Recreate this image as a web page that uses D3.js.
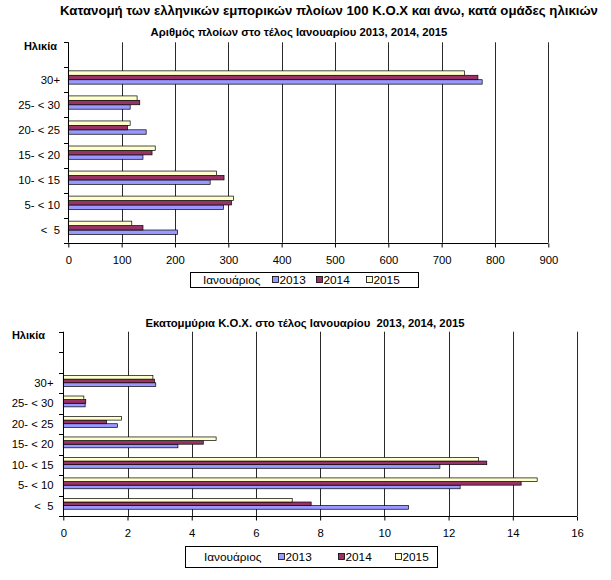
<!DOCTYPE html>
<html lang="el">
<head>
<meta charset="UTF-8" />
<title>Κατανομή εμπορικών πλοίων</title>
<script src="https://d3js.org/d3.v7.min.js"></script>
<style>
  body { margin: 0; background: #fff; }
  svg { display: block; font-family: "Liberation Sans", Arial, sans-serif; }
  text { fill: #000; white-space: pre; }
</style>
</head>
<body>
<svg id="chart" width="611" height="580"></svg>
<script>
// == DATA ==
const ageGroups = ["30+", "25- < 30", "20- < 25", "15- < 20", "10- < 15", "5- < 10", "<  5"];
const years = ["2013", "2014", "2015"];
const yearColors = ["#9999ff", "#993366", "#ffffcc"];

// number of ships, end of January
const ships2013 = [776, 116, 146, 140, 266, 291, 205];
const ships2014 = [768, 134, 111, 157, 292, 306, 140];
const ships2015 = [743, 129, 116, 163, 278, 310, 119];
const shipTicks = [0, 100, 200, 300, 400, 500, 600, 700, 800, 900];

// million GT, end of January
const gt2013 = [2.88, 0.68, 1.69, 3.57, 11.73, 12.36, 10.75];
const gt2014 = [2.84, 0.70, 1.35, 4.36, 13.19, 14.26, 7.72];
const gt2015 = [2.79, 0.64, 1.81, 4.76, 12.93, 14.76, 7.13];
const gtTicks = [0, 2, 4, 6, 8, 10, 12, 14, 16];

const svg = d3.select("#chart");

svg.append("text")
  .attr("x", 329).attr("y", 10)
  .attr("text-anchor", "middle").attr("dominant-baseline", "central")
  .attr("font-weight", "bold").attr("font-size", 13.2)
  .text("Κατανομή των ελληνικών εμπορικών πλοίων 100 Κ.Ο.Χ και άνω, κατά ομάδες ηλικιών");

function drawChart(cfg) {
  const g = svg.append("g");
  const x = d3.scaleLinear().domain(cfg.domain).range([cfg.left, cfg.right]);
  // leading empty bands, as in the spreadsheet chart
  const cats = cfg.blanks.concat(ageGroups);
  const y = d3.scaleBand().domain(cats).range([cfg.top, cfg.bottom]);
  const bw = y.bandwidth();
  const inner = d3.scaleBand().domain(["2015", "2014", "2013"]).range([0, bw * 0.53]);
  const off = bw * 0.14;

  g.append("text")
    .attr("x", cfg.titleX).attr("y", cfg.titleY)
    .attr("text-anchor", "middle").attr("dominant-baseline", "central")
    .attr("font-weight", "bold").attr("font-size", 11.3)
    .text(cfg.title);

  g.append("text")
    .attr("x", cfg.ageX).attr("y", cfg.top + 3.5)
    .attr("text-anchor", "end").attr("dominant-baseline", "central")
    .attr("font-weight", "bold").attr("font-size", 11)
    .text("Ηλικία");

  // vertical gridlines
  g.selectAll(".grid").data(cfg.ticks.slice(1)).join("line")
    .attr("x1", d => Math.round(x(d)) + 0.5).attr("x2", d => Math.round(x(d)) + 0.5)
    .attr("y1", cfg.top).attr("y2", cfg.bottom)
    .attr("stroke", "#2a2a2a").attr("stroke-width", 1);

  // bars
  const series = years.map((yr, i) => ({ year: yr, color: yearColors[i], values: cfg.series[i] }));
  series.forEach(s => {
    g.selectAll(null).data(s.values).join("rect")
      .attr("x", x(0))
      .attr("y", (d, i) => y(ageGroups[i]) + off + inner(s.year))
      .attr("width", d => x(d) - x(0))
      .attr("height", inner.bandwidth())
      .attr("fill", s.color)
      .attr("stroke", "#000").attr("stroke-width", 0.7);
  });

  // left axis: line, ticks at band boundaries, labels at centers
  const lx = Math.round(x(0)) + 0.5;
  g.append("line").attr("x1", lx).attr("x2", lx).attr("y1", cfg.top).attr("y2", cfg.bottom)
    .attr("stroke", "#000");
  const bounds = cats.map(c => y(c)).concat([cfg.bottom]);
  g.selectAll(".ytick").data(bounds).join("line")
    .attr("x1", lx - 4.5).attr("x2", lx)
    .attr("y1", d => Math.round(d) + 0.5).attr("y2", d => Math.round(d) + 0.5)
    .attr("stroke", "#000");
  g.selectAll(".ylab").data(ageGroups).join("text")
    .attr("x", cfg.labelX).attr("y", d => y(d) + bw / 2)
    .attr("text-anchor", "end").attr("dominant-baseline", "central")
    .attr("font-size", 11.3)
    .text(d => d);

  // bottom axis
  const ax = g.append("g").attr("transform", `translate(0,${Math.round(cfg.bottom) + 0.5})`)
    .call(d3.axisBottom(x).tickValues(cfg.ticks).tickSize(4).tickPadding(8).tickFormat(d3.format("d")));
  ax.select(".domain").attr("stroke", "#000").attr("d", `M${x(0)},0H${x(cfg.domain[1])}`);
  ax.selectAll(".tick line").attr("stroke", "#000");
  ax.selectAll(".tick text").attr("font-size", 11.3).attr("font-family", "Liberation Sans, Arial, sans-serif").attr("fill", "#000");

  // legend
  const L = cfg.legend;
  const lg = g.append("g");
  lg.append("rect").attr("x", L.x + 0.5).attr("y", L.y + 0.5).attr("width", L.w).attr("height", L.h)
    .attr("fill", "#fff").attr("stroke", "#000");
  const cy = L.y + L.h / 2 + 0.5;
  lg.append("text").attr("x", L.labelX).attr("y", cy)
    .attr("dominant-baseline", "central").attr("font-size", 11.8).text("Ιανουάριος");
  series.forEach((s, i) => {
    lg.append("rect").attr("x", L.items[i] + 0.5).attr("y", cy - 3.5).attr("width", 6).attr("height", 6)
      .attr("fill", s.color).attr("stroke", "#000").attr("stroke-width", 0.8);
    lg.append("text").attr("x", L.items[i] + 7.5).attr("y", cy)
      .attr("dominant-baseline", "central").attr("font-size", 11.8).text(s.year);
  });
}

drawChart({
  title: "Αριθμός πλοίων στο τέλος Ιανουαρίου 2013, 2014, 2015",
  titleX: 299, titleY: 32,
  series: [ships2013, ships2014, ships2015],
  domain: [0, 900], ticks: shipTicks,
  left: 68.3, right: 548.3, top: 42.3, bottom: 242.7,
  blanks: [""],
  ageX: 57, labelX: 60,
  legend: { x: 190, y: 272, w: 228, h: 15, labelX: 203, items: [272, 316, 366] }
});

drawChart({
  title: "Εκατομμύρια Κ.Ο.Χ. στο τέλος Ιανουαρίου  2013, 2014, 2015",
  titleX: 305, titleY: 323,
  series: [gt2013, gt2014, gt2015],
  domain: [0, 16], ticks: gtTicks,
  left: 63.3, right: 577, top: 331.7, bottom: 516,
  blanks: ["", " "],
  ageX: 45, labelX: 53.5,
  legend: { x: 185, y: 546, w: 252, h: 21, labelX: 204, items: [278, 338, 395] }
});
</script>
</body>
</html>
